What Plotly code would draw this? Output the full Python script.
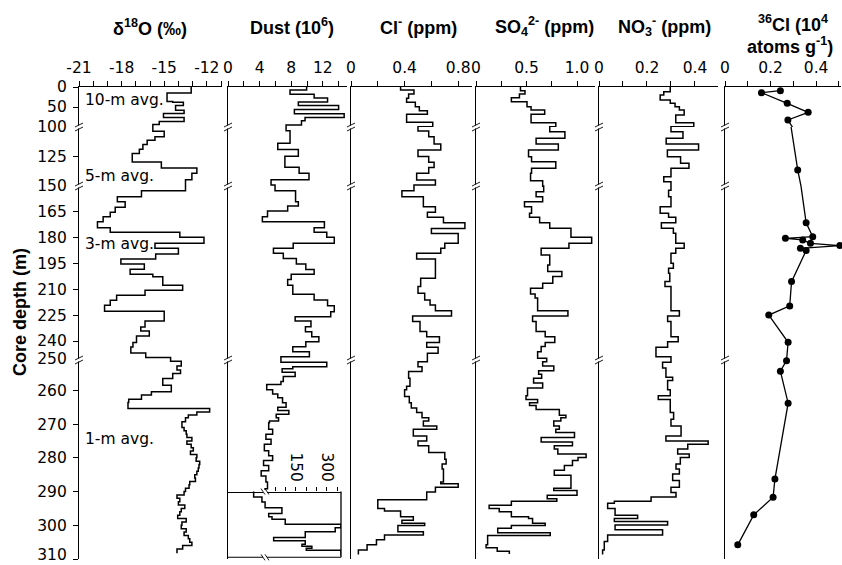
import plotly.graph_objects as go

# ---------------- data ----------------
# Step profiles: (top depth of interval [m], value); each interval runs to the next depth.
d18o_steps = [
    (0, -13.1), (15, -14.8), (36, -14.4), (38, -13.65), (46, -14.2), (58, -13.6), (66, -15.05),
    (76, -13.6), (86, -15.35), (94, -15.8), (103.7, -15.0), (108.3, -15.65), (111.2, -16.2),
    (114.9, -16.5), (118.9, -16.75), (122.4, -17.25), (129.6, -15.2), (134.8, -12.7),
    (139.1, -13.05), (144.8, -13.5), (152.7, -16.6), (156.2, -18.3), (159.1, -17.75),
    (162.4, -18.45), (165.3, -18.8), (167.8, -19.3), (170.7, -19.7), (174.2, -18.8),
    (176.9, -13.9), (179.8, -12.2), (183.3, -15.65), (186.2, -14.0), (189.5, -15.6),
    (192.4, -18.05), (195.3, -16.4), (198.3, -17.4), (201.2, -15.8), (202.7, -15.1),
    (207.6, -13.7), (210.5, -16.35), (213.4, -18.35), (216.3, -18.8), (219.2, -19.2),
    (222.7, -15.0), (228.3, -16.35), (231.8, -16.65), (234.1, -16.05), (237.0, -16.95),
    (240.9, -17.2), (243.4, -17.35), (246.9, -16.3), (249.6, -14.55), (251.4, -13.8),
    (252.8, -14.1), (254.0, -13.85), (255.0, -14.4), (256.5, -15.1), (258.5, -14.5),
    (260.4, -15.9), (261.4, -16.6), (262.6, -17.5), (263.6, -17.55), (265.4, -11.8),
    (266.4, -12.7), (267.3, -13.3), (268.1, -13.5), (269.3, -13.75), (271, -13.6),
    (272, -13.45), (273, -13.4), (274, -13.05), (275, -13.4), (276, -13.1), (277, -12.95),
    (278, -13.15), (279, -12.7), (280, -12.75), (281, -12.5), (282, -12.55), (283, -12.6),
    (284, -12.7), (285, -12.85), (286, -12.8), (287, -13.2), (288, -13.25), (289, -13.5),
    (290, -13.6), (291, -14.1), (292, -13.9), (293, -14.0), (294, -13.55), (295, -13.8),
    (296, -13.9), (297, -14.05), (298, -13.45), (299, -13.75), (300, -13.8), (301, -13.45),
    (302, -13.6), (303, -13.3), (304, -13.2), (305, -13.05), (306, -13.7), (307, -14.1),
]
d18o_end = 308.3

dust_steps = [
    (0, 9.95), (7.3, 7.85), (17.9, 10.9), (27.6, 12.6), (37.4, 8.9), (46.3, 14.0), (56.1, 8.4),
    (66.7, 14.7), (76.4, 9.75), (84.6, 9.3), (95.1, 7.35), (103.2, 7.85), (113.8, 6.3),
    (119.0, 8.9), (124.7, 7.2), (134.2, 9.0), (139.1, 10.25), (144.8, 5.45), (149.1, 5.95),
    (152.7, 8.55), (159.1, 8.9), (161.6, 7.55), (164.5, 5.0), (167.8, 4.35), (170.7, 12.2),
    (174.2, 10.9), (176.9, 12.5), (179.8, 13.45), (183.3, 8.25), (186.2, 5.75), (189.1, 7.0),
    (192.1, 8.65), (195.3, 9.85), (198.4, 10.9), (201.2, 8.0), (204.3, 7.55), (207.6, 8.2),
    (212.9, 10.9), (216.2, 12.6), (219.5, 13.45), (223.0, 13.0), (225.9, 8.5), (228.4, 10.5),
    (231.7, 9.8), (234.6, 10.6), (237.5, 11.5), (240.4, 9.85), (243.3, 8.2), (246.2, 10.3),
    (249.1, 6.7), (251.7, 12.5), (253.0, 8.2), (253.6, 6.85), (254.6, 8.5), (255.9, 7.0),
    (257.4, 6.7), (258.3, 4.9), (259.8, 5.65), (261.1, 6.3), (262.2, 6.9), (263.7, 7.35),
    (265.0, 6.3), (266.0, 7.7), (267.1, 6.1), (268.1, 6.4), (269.1, 5.25), (269.6, 5.15),
    (271.5, 5.65), (273.0, 4.8), (274.5, 5.45), (276.0, 4.6), (277.9, 5.15), (279.4, 5.65),
    (280.8, 4.5), (282.3, 5.15), (283.8, 4.2), (285.4, 4.8), (287.2, 5.0), (289.2, 4.7),
]
dust_end = 290.0
# Below 290 m dust is drawn on the inset's broken scale (values < 5 are on the main
# x10^6 scale, left of the break; larger values are on the inset scale).
dust_deep_steps = [
    (290.0, 3.25), (291.6, 4.3), (293.1, 4.7), (294.8, 82), (296.5, 18), (297.5, 34),
    (298.2, 98), (299.7, 368), (300.7, 340), (301.9, 195), (303.6, 42), (304.6, 195),
    (305.6, 179), (306.2, 227), (306.8, 200), (307.4, 368),
]
dust_deep_end = 309.0

cl_steps = [
    (0, 0.37), (7.5, 0.47), (17.5, 0.43), (28.3, 0.415), (38.3, 0.48), (49.2, 0.51), (59.2, 0.57),
    (68.3, 0.415), (88.3, 0.61), (99.2, 0.50), (103.4, 0.58), (108.2, 0.62), (114.4, 0.67),
    (119.5, 0.50), (125.1, 0.58), (129.9, 0.62), (134.4, 0.58), (139.2, 0.49), (144.9, 0.63),
    (149.2, 0.47), (152.7, 0.38), (156.2, 0.54), (162.0, 0.63), (165.3, 0.57), (168.2, 0.69),
    (171.3, 0.85), (174.6, 0.60), (177.5, 0.80), (183.3, 0.70), (186.2, 0.67), (189.1, 0.49),
    (192.4, 0.63), (203.6, 0.52), (208.4, 0.50), (212.3, 0.55), (216.2, 0.59), (219.1, 0.63),
    (222.4, 0.75), (225.4, 0.46), (228.7, 0.515), (234.5, 0.565), (237.5, 0.66), (240.9, 0.565),
    (243.6, 0.65), (247.1, 0.57), (251.5, 0.50), (253.0, 0.53), (254.4, 0.43), (256.4, 0.44),
    (258.8, 0.415), (259.8, 0.40), (261.8, 0.435), (263.7, 0.45), (265.2, 0.49), (266.6, 0.53),
    (268.1, 0.58), (269.1, 0.54), (270.6, 0.64), (271.5, 0.465), (273.5, 0.565), (275.0, 0.50),
    (276.4, 0.58), (278.4, 0.70), (280.4, 0.71), (281.8, 0.68), (283.3, 0.69), (287.2, 0.67),
    (287.7, 0.80), (288.7, 0.63), (290.1, 0.565), (292.4, 0.20), (295.0, 0.25), (295.8, 0.37),
    (297.5, 0.465), (298.5, 0.38), (299.4, 0.55), (300.1, 0.35), (301.9, 0.54), (302.9, 0.25),
    (304.3, 0.19), (305.8, 0.12), (307.3, 0.055),
]
cl_end = 308.7

so4_steps = [
    (0, 0.44), (9.2, 0.485), (17.5, 0.43), (26.7, 0.35), (36.7, 0.505), (49.2, 0.545), (57.5, 0.68),
    (68.3, 0.545), (89.2, 0.79), (99.2, 0.73), (104.0, 0.88), (109.6, 0.595), (114.4, 0.815),
    (119.5, 0.52), (125.2, 0.55), (129.4, 0.79), (135.0, 0.55), (139.2, 0.54), (145.5, 0.66),
    (150.1, 0.67), (153.3, 0.595), (156.2, 0.66), (159.1, 0.48), (162.0, 0.55), (165.8, 0.53),
    (168.2, 0.63), (171.3, 0.73), (174.5, 0.94), (179.8, 1.145), (183.3, 0.92), (186.2, 0.645),
    (190.0, 0.73), (195.8, 0.71), (199.7, 0.85), (202.6, 0.76), (206.5, 0.66), (209.4, 0.54),
    (212.7, 0.585), (215.0, 0.61), (222.4, 0.91), (225.4, 0.56), (228.7, 0.595), (234.5, 0.685),
    (237.5, 0.78), (240.9, 0.685), (243.2, 0.645), (246.2, 0.61), (250.0, 0.70), (251.5, 0.66),
    (252.8, 0.77), (254.2, 0.62), (255.2, 0.65), (256.4, 0.57), (257.8, 0.66), (259.3, 0.51),
    (261.6, 0.495), (262.7, 0.61), (263.7, 0.53), (264.5, 0.595), (265.7, 0.825), (267.4, 0.89),
    (268.1, 0.84), (269.1, 0.77), (270.6, 0.825), (271.5, 0.79), (272.5, 0.975), (274.0, 0.645),
    (275.3, 0.955), (276.4, 0.775), (277.4, 0.81), (278.9, 1.09), (279.9, 1.01), (280.8, 0.955),
    (282.3, 0.875), (283.7, 0.775), (285.2, 0.94), (289.0, 0.77), (289.7, 1.0), (291.1, 0.705),
    (292.1, 0.80), (292.9, 0.35), (294.1, 0.13), (295.0, 0.23), (296.0, 0.35), (297.5, 0.52),
    (298.0, 0.56), (299.4, 0.685), (300.1, 0.35), (300.9, 0.215), (302.2, 0.735), (303.0, 0.115),
    (305.8, 0.10), (306.7, 0.21), (307.7, 0.33),
]
so4_end = 308.5

no3_steps = [
    (0, 0.297), (11.7, 0.27), (20, 0.255), (32.5, 0.297), (40.8, 0.317), (49.2, 0.335),
    (57.5, 0.355), (70, 0.32), (89.2, 0.395), (99.2, 0.30), (104.0, 0.35), (109.6, 0.28),
    (114.4, 0.415), (119.5, 0.285), (125.2, 0.34), (130.8, 0.375), (135.0, 0.30), (142.1, 0.27),
    (146.3, 0.30), (152.5, 0.29), (156.2, 0.30), (162.0, 0.255), (165.8, 0.29), (168.2, 0.32),
    (171.3, 0.26), (174.5, 0.31), (177.4, 0.32), (183.3, 0.355), (186.2, 0.32), (189.1, 0.30),
    (194.9, 0.31), (197.8, 0.29), (200.7, 0.295), (205.5, 0.275), (208.4, 0.30), (213.3, 0.30),
    (222.4, 0.335), (225.4, 0.286), (228.7, 0.30), (237.5, 0.33), (240.4, 0.286), (243.6, 0.2375),
    (249.1, 0.30), (251.7, 0.265), (253.4, 0.279), (256.1, 0.307), (257.1, 0.286), (259.8, 0.297),
    (261.6, 0.247), (262.7, 0.297), (266.6, 0.311), (268.6, 0.30), (270.6, 0.342), (273.5, 0.279),
    (275.0, 0.455), (276.0, 0.37), (277.4, 0.328), (278.9, 0.376), (279.9, 0.339), (281.8, 0.321),
    (283.3, 0.335), (284.8, 0.307), (286.7, 0.335), (288.7, 0.30), (290.3, 0.321), (291.6, 0.217),
    (292.9, 0.064), (293.5, 0.036), (295.0, 0.067), (297.0, 0.161), (298.0, 0.064), (298.9, 0.286),
    (299.9, 0.067), (301.3, 0.265), (302.9, 0.036), (304.8, 0.022), (307.3, 0.015),
]
no3_end = 308.7

cl36_depth = [9.2, 14.2, 40.8, 63.2, 82.5, 136.4, 171.3, 179.4, 180.4, 181.3, 183.3, 184.6,
              186.2, 187.5, 205.5, 219.6, 224.9, 240.7, 251.2, 254.3, 263.8, 286.3, 291.7,
              296.9, 305.8]
cl36_value = [0.243, 0.160, 0.273, 0.365, 0.276, 0.319, 0.356, 0.385, 0.265, 0.341, 0.375,
              0.504, 0.331, 0.356, 0.292, 0.284, 0.192, 0.277, 0.270, 0.243, 0.277, 0.219,
              0.211, 0.126, 0.056]

depth_tick_labels = [0, 50, 100, 125, 150, 165, 180, 195, 210, 225, 240, 250,
                     260, 270, 280, 290, 300, 310]
depth_labels_at_breaks = [100, 150, 250]

inset_tick_labels = [150, 300]
inset_minor_ticks = [50, 100, 200, 250, 350]

avg_labels = ["10-m avg.", "5-m avg.", "3-m avg.", "1-m avg."]

# ---------------- layout configuration ----------------
W, H = 842, 565
# broken depth axis: (top depth, bottom depth, top px, bottom px)
SECTIONS = [(0, 100, 87, 127), (100, 150, 127, 186), (150, 251, 186, 360), (251, 310, 360, 559)]
BOTTOM_LABEL_LIFT_PX = 4   # keep the bottom depth label inside the page

PANELS = [
    dict(x0=79, x1=222, rng=[-21, -10.93], tv=[-21, -18, -15, -12], tt=["-21", "-18", "-15", "-12"],
         minor=[-20, -19, -17, -16, -14, -13, -11]),
    dict(x0=228, x1=347, rng=[0, 15.06], tv=[0, 4, 8, 12], tt=["0", "4", "8", "12"], minor=[2, 6, 10, 14]),
    dict(x0=351, x1=472, rng=[0, 0.903], tv=[0, 0.4, 0.8], tt=["0", "0.4", "0.8"], minor=[0.2, 0.6]),
    dict(x0=476, x1=595, rng=[0, 1.178], tv=[0, 0.5, 1.0], tt=["0", "0.5", "1.0"], minor=[0.25, 0.75]),
    dict(x0=599, x1=718, rng=[0, 0.496], tv=[0, 0.2, 0.4], tt=["0", "0.2", "0.4"], minor=[0.1, 0.3]),
    dict(x0=725, x1=841, rng=[0, 0.509], tv=[0, 0.2, 0.4], tt=["0", "0.2", "0.4"], minor=[0.1, 0.3, 0.5]),
]
INSET_X = (228, 341)            # inset box horizontal extent (px)
INSET_RANGE = [-179, 368]       # inset axis units across that box (break at 0)
TITLES = [
    ("δ<sup>18</sup>O (‰)", 150, 28),
    ("Dust (10<sup>6</sup>)", 292, 27),
    ("Cl<sup>-</sup> (ppm)", 418, 27),
    ("SO<sub>4</sub><sup>2-</sup> (ppm)", 544, 27),
    ("NO<sub>3</sub><sup>-</sup> (ppm)", 664, 27),
    ("<sup>36</sup>Cl (10<sup>4</sup>", 793, 23),
    ("atoms g<sup>-1</sup>)", 790, 46),
]
AVG_POS = [(83, 100), (83, 176), (83, 244), (83, 439)]

TICKFONT = dict(family="DejaVu Sans", size=15.5, color="black")
TITLEFONT = dict(family="Liberation Sans", size=18, color="black")
LINE = dict(color="black", width=1.5)


def yp(py):
    return 1 - py / H


def aid(k):
    return "" if k == 1 else str(k)


def step_xy(steps, end, f=lambda v: v):
    ys = [d for d, _ in steps] + [end]
    xs = [f(v) for _, v in steps] + [f(steps[-1][1])]
    return xs, ys


fig = go.Figure()
layout = dict(width=W, height=H, margin=dict(l=0, r=0, t=0, b=0, autoexpand=False),
              paper_bgcolor="white", plot_bgcolor="rgba(0,0,0,0)", showlegend=False)

series = [
    step_xy(d18o_steps, d18o_end),
    step_xy(dust_steps, dust_end),
    step_xy(cl_steps, cl_end),
    step_xy(so4_steps, so4_end),
    step_xy(no3_steps, no3_end),
    None,
]

for p, P in enumerate(PANELS):
    for s, (d0, d1, py0, py1) in enumerate(SECTIONS):
        k = p * 4 + s + 1
        xa = dict(domain=[P["x0"] / W, P["x1"] / W], range=P["rng"], anchor="y" + aid(k),
                  showgrid=False, zeroline=False, fixedrange=True, automargin=False)
        if s == 0:
            xa.update(side="top", showline=True, linecolor="black", linewidth=1.3,
                      ticks="outside", ticklen=5, tickwidth=1.2, tickcolor="black",
                      tickmode="array", tickvals=P["tv"], ticktext=P["tt"], tickfont=TICKFONT,
                      ticklabelstandoff=2, ticklabeloverflow="allow",
                      minor=dict(tickmode="array", tickvals=P["minor"], ticks="outside",
                                 ticklen=5, tickwidth=1.2, tickcolor="black"))
        else:
            xa.update(visible=False)
        ya = dict(domain=[yp(py1), yp(py0)], range=[d1, d0], anchor="x" + aid(k),
                  showline=True, linecolor="black", linewidth=1.3, showgrid=False,
                  zeroline=False, fixedrange=True, automargin=False)
        if p == 0:
            last = s == len(SECTIONS) - 1
            labels = [t for t in depth_tick_labels if d0 <= t < d1 or (last and t == d1)]
            marks = [t for t in labels if t not in depth_labels_at_breaks]
            per_px = (d1 - d0) / (py1 - py0)
            label_pos = [t - BOTTOM_LABEL_LIFT_PX * per_px if (last and t == d1) else t
                         for t in labels]
            ya.update(tickmode="array", tickvals=label_pos, ticktext=[str(t) for t in labels],
                      ticks="", tickfont=TICKFONT, ticklabelstandoff=8, ticklabeloverflow="allow",
                      minor=dict(tickmode="array", tickvals=marks, ticks="outside", ticklen=5,
                                 tickwidth=1.2, tickcolor="black"))
        else:
            ya.update(ticks="", showticklabels=False)
        layout["xaxis" + aid(k)] = xa
        layout["yaxis" + aid(k)] = ya

        if series[p] is not None:
            xs, ys = series[p]
            fig.add_trace(go.Scatter(x=xs, y=ys, mode="lines", line=dict(LINE, shape="vh"),
                                     xaxis="x" + aid(k), yaxis="y" + aid(k), hoverinfo="skip"))
        else:
            fig.add_trace(go.Scatter(x=cl36_value, y=cl36_depth, mode="lines",
                                     line=dict(color="black", width=1.3),
                                     xaxis="x" + aid(k), yaxis="y" + aid(k), hoverinfo="skip"))
            sel = [i for i, d in enumerate(cl36_depth) if d0 <= d <= d1]
            fig.add_trace(go.Scatter(x=[cl36_value[i] for i in sel], y=[cl36_depth[i] for i in sel],
                                     mode="markers", marker=dict(color="black", size=7),
                                     cliponaxis=False, xaxis="x" + aid(k), yaxis="y" + aid(k),
                                     hoverinfo="skip"))

# ---- dust inset (290 m to bottom) with broken, expanded scale ----
DUST_BREAK = 4.684      # main-scale dust value at the inset axis break
INSET_PER_MAIN = 38.24  # inset-axis units per main-scale unit left of the break


def inset_units(v):
    return v if v >= 5 else (v - DUST_BREAK) * INSET_PER_MAIN


def depth_px(d):
    for d0, d1, py0, py1 in SECTIONS:
        if d0 <= d <= d1:
            return py0 + (d - d0) * (py1 - py0) / (d1 - d0)


dust_D = 1 * 4 + 3 + 1  # dust panel, deepest section
py290 = depth_px(290)
py_bot = depth_px(309.5)
brk_px = INSET_X[0] + (0 - INSET_RANGE[0]) / (INSET_RANGE[1] - INSET_RANGE[0]) * (INSET_X[1] - INSET_X[0])
layout["xaxis25"] = dict(domain=[INSET_X[0] / W, INSET_X[1] / W], range=INSET_RANGE,
                         anchor="free", position=yp(py290), side="top", showline=True,
                         linecolor="black", linewidth=1.3, showgrid=False, zeroline=False,
                         ticks="outside", ticklen=4, tickwidth=1.2, tickcolor="black",
                         tickmode="array", tickvals=inset_tick_labels,
                         ticktext=[str(t) for t in inset_tick_labels], tickangle=90,
                         tickfont=TICKFONT, fixedrange=True, automargin=False,
                         minor=dict(tickmode="array", tickvals=inset_minor_ticks, ticks="outside",
                                    ticklen=4, tickwidth=1.2, tickcolor="black"))
xs, ys = step_xy(dust_deep_steps, dust_deep_end, inset_units)
fig.add_trace(go.Scatter(x=xs, y=ys, mode="lines", line=dict(LINE, shape="vh"),
                         xaxis="x25", yaxis="y" + aid(dust_D), hoverinfo="skip"))

shapes = []
# inset frame: right and bottom edges
shapes.append(dict(type="line", xref="paper", yref="paper", x0=INSET_X[1] / W, x1=INSET_X[1] / W,
                   y0=yp(py290), y1=yp(py_bot), line=dict(color="black", width=1.3)))
shapes.append(dict(type="line", xref="paper", yref="paper", x0=INSET_X[0] / W, x1=INSET_X[1] / W,
                   y0=yp(py_bot), y1=yp(py_bot), line=dict(color="black", width=1.1)))
for pyb in (py290, py_bot):
    shapes.append(dict(type="line", xref="paper", yref="paper", x0=(brk_px - 2) / W,
                       x1=(brk_px + 2) / W, y0=yp(pyb), y1=yp(pyb),
                       line=dict(color="white", width=3)))
    for dx in (-2, 2):
        shapes.append(dict(type="line", xref="paper", yref="paper", x0=(brk_px - 2 + dx) / W,
                           x1=(brk_px + 2 + dx) / W, y0=yp(pyb - 3), y1=yp(pyb + 3),
                           line=dict(color="black", width=0.9)))

# break marks on every depth axis
for P in PANELS:
    x = P["x0"]
    for (_, _, pyb, _) in SECTIONS[1:]:
        shapes.append(dict(type="line", xref="paper", yref="paper", x0=x / W, x1=x / W,
                           y0=yp(pyb - 1.5), y1=yp(pyb + 1.5), line=dict(color="white", width=3)))
        for dy in (-2, 2):
            shapes.append(dict(type="line", xref="paper", yref="paper", x0=(x - 4) / W,
                               x1=(x + 4) / W, y0=yp(pyb + dy + 2), y1=yp(pyb + dy - 2),
                               line=dict(color="black", width=0.9)))
layout["shapes"] = shapes

ann = []
for text, x, y in TITLES:
    ann.append(dict(text="<b>" + text + "</b>", x=x / W, y=yp(y), xref="paper", yref="paper",
                    showarrow=False, xanchor="center", yanchor="middle", font=TITLEFONT))
for text, (x, y) in zip(avg_labels, AVG_POS):
    ann.append(dict(text=text, x=x / W, y=yp(y), xref="paper", yref="paper", showarrow=False,
                    xanchor="left", yanchor="middle", font=TICKFONT))
ann.append(dict(text="<b>Core depth (m)</b>", x=20 / W, y=yp(312), xref="paper", yref="paper",
                showarrow=False, textangle=-90, xanchor="center", yanchor="middle",
                font=dict(family="Liberation Sans", size=18, color="black")))
layout["annotations"] = ann

fig.update_layout(**layout)
fig.write_html("out.html")
